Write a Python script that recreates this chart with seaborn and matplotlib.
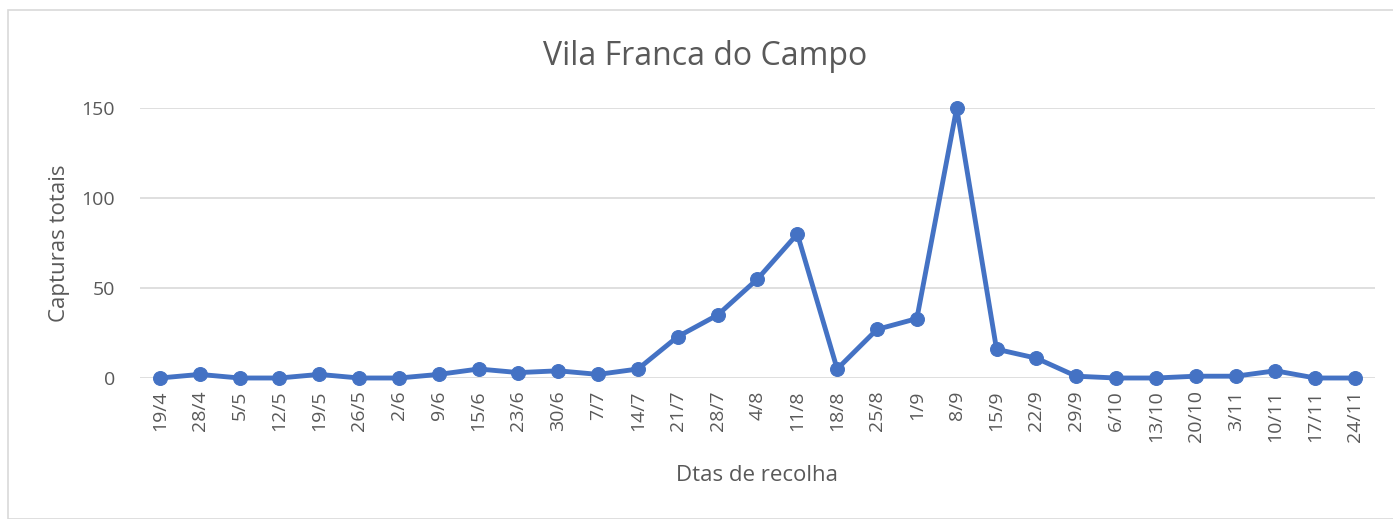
import matplotlib
matplotlib.use("Agg")
import matplotlib.pyplot as plt
import seaborn as sns
import pandas as pd
from matplotlib.patches import Rectangle

dates = ["19/4", "28/4", "5/5", "12/5", "19/5", "26/5", "2/6", "9/6", "15/6", "23/6",
         "30/6", "7/7", "14/7", "21/7", "28/7", "4/8", "11/8", "18/8", "25/8", "1/9",
         "8/9", "15/9", "22/9", "29/9", "6/10", "13/10", "20/10", "3/11", "10/11",
         "17/11", "24/11"]
capturas = [0, 2, 0, 0, 2, 0, 0, 2, 5, 3,
            4, 2, 5, 23, 35, 55, 80, 5, 27, 33,
            150, 16, 11, 1, 0, 0, 1, 1, 4,
            0, 0]
yticks = [0, 50, 100, 150]

sns.set_theme(style="white")
plt.rcParams["font.family"] = ["Open Sans", "DejaVu Sans"]

df = pd.DataFrame({"idx": range(len(dates)), "val": capturas})

fig = plt.figure(figsize=(13.93, 5.19), dpi=100)
ax = fig.add_axes([140 / 1393, 1 - 378 / 519, (1375 - 140) / 1393, (378 - 108) / 519])

blue = "#4472C4"
grey = "#595959"

for y in yticks:
    ax.axhline(y, color="#D9D9D9", lw=1.2, zorder=0)

sns.lineplot(data=df, x="idx", y="val", ax=ax, color=blue, lw=3.5, marker="o",
             markersize=10, markeredgecolor=blue, clip_on=False, zorder=3)

ax.set_xlim(-0.5, len(dates) - 0.5)
ax.set_ylim(0, 150)
ax.set_yticks(yticks)
ax.set_yticklabels([str(v) for v in yticks], color=grey, fontsize=14)
ax.set_xticks(range(len(dates)))
ax.set_xticklabels(dates, rotation=90, color=grey, fontsize=14)
ax.tick_params(axis="y", length=0, pad=18)
ax.tick_params(axis="x", length=0, pad=9)
for s in ax.spines.values():
    s.set_visible(False)

ax.set_xlabel("Dtas de recolha", color=grey, fontsize=16, labelpad=16)
ax.set_ylabel("Capturas totais", color=grey, fontsize=16, labelpad=8)
fig.suptitle("Vila Franca do Campo", x=(543 + 868) / 2 / 1393, y=1 - 40 / 519,
             color=grey, fontsize=23, va="top")

fig.patches.append(Rectangle((8 / 1393, 0), 1, 1 - 10 / 519, transform=fig.transFigure,
                             fill=False, edgecolor="#D9D9D9", lw=1.2, zorder=0))

fig.savefig("out.png", dpi=100)
